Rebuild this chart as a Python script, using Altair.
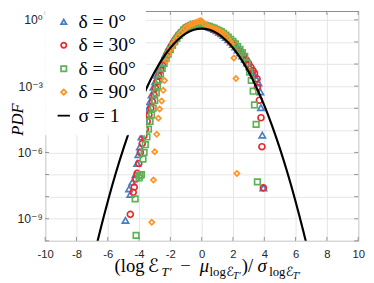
import altair as alt
import pandas as pd

series_names = ["δ = 0°", "δ = 30°", "δ = 60°", "δ = 90°"]
line_name = "σ = 1"

# delta = 0 deg (x, log10 PDF)
x_d0 = [-4.87, -4.64, -4.56, -4.44, -4.23, -4.12, -4.05, -3.95, -3.85, -3.75, -3.62, -3.5, -3.4, -3.3, -3.2,
        -3.08, -2.97, -2.85, -2.72, -2.6, -2.47, -2.33, -2.2, -2.05, -1.9, -1.75, -1.6, -1.45, -1.3, -1.15,
        -1.0, -0.85, -0.7, -0.55, -0.4, -0.25, -0.1, 0.05, 0.2, 0.35, 0.5, 0.65, 0.8, 0.95, 1.1, 1.25, 1.4,
        1.55, 1.7, 1.85, 2.0, 2.15, 2.3, 2.45, 2.6, 2.75, 2.9, 3.05, 3.2, 3.35, 3.5, 3.625, 3.75, 3.79, 3.875, 3.94]
e_d0 = [-9.07, -7.65, -7.9, -7.35, -7.0, -6.5, -6.1, -5.75, -5.3, -4.95, -4.6, -4.3, -4.0, -3.7, -3.4,
        -3.05, -2.8, -2.5, -2.25, -2.02, -1.8, -1.58, -1.4, -1.2, -1.02, -0.86, -0.72, -0.6, -0.48, -0.39,
        -0.31, -0.26, -0.22, -0.2, -0.19, -0.19, -0.2, -0.22, -0.26, -0.3, -0.34, -0.38, -0.43, -0.49, -0.56, -0.63, -0.71,
        -0.8, -0.9, -1.0, -1.11, -1.23, -1.36, -1.5, -1.63, -1.78, -1.95, -2.12, -2.32, -2.52, -2.68, -2.86, -3.26, -3.97, -5.22, -7.6]

# delta = 30 deg
x_d30 = [-4.56, -4.375, -4.31, -4.2, -4.125, -4.02, -3.92, -3.8, -3.7, -3.6, -3.48, -3.37, -3.25, -3.15, -3.05,
         -2.95, -2.85, -2.75, -2.62, -2.5, -2.37, -2.23, -2.1, -1.95, -1.8, -1.65, -1.5, -1.35, -1.2, -1.05,
         -0.9, -0.75, -0.6, -0.45, -0.3, -0.15, 0.0, 0.15, 0.3, 0.45, 0.6, 0.75, 0.9, 1.05, 1.2, 1.35, 1.5,
         1.65, 1.8, 1.95, 2.1, 2.25, 2.4, 2.55, 2.7, 2.85, 3.0, 3.15, 3.28, 3.375, 3.54, 3.56, 3.69, 3.79, 3.85, 3.94]
e_d30 = [-8.8, -7.8, -7.57, -7.2, -6.95, -6.5, -6.0, -5.6, -5.25, -4.95, -4.6, -4.3, -4.0, -3.7, -3.4,
         -3.1, -2.8, -2.55, -2.28, -2.04, -1.82, -1.6, -1.4, -1.2, -1.02, -0.86, -0.72, -0.59, -0.48, -0.39,
         -0.31, -0.26, -0.22, -0.2, -0.19, -0.2, -0.22, -0.25, -0.29, -0.33, -0.37, -0.42, -0.47, -0.53, -0.6, -0.68, -0.76,
         -0.85, -0.95, -1.05, -1.16, -1.28, -1.4, -1.53, -1.67, -1.82, -1.98, -2.15, -2.3, -2.42, -2.67, -3.05, -3.64, -4.43, -5.74, -7.6]

# delta = 60 deg
x_d60 = [-4.19, -4.25, -4.0, -3.94, -3.85, -3.75, -3.68, -3.6, -3.5, -3.4, -3.3, -3.2, -3.1, -3.0, -2.9,
         -2.83, -2.73, -2.63, -2.52, -2.4, -2.27, -2.14, -2.0, -1.86, -1.72, -1.58, -1.44, -1.3, -1.15, -1.0,
         -0.85, -0.7, -0.55, -0.4, -0.25, -0.1, 0.05, 0.2, 0.35, 0.5, 0.65, 0.8, 0.95, 1.1, 1.25, 1.4, 1.55,
         1.7, 1.85, 2.0, 2.15, 2.3, 2.45, 2.6, 2.75, 2.9, 3.06, 3.17, 3.29, 3.375, 3.48, 3.56]
e_d60 = [-9.75, -8.1, -7.15, -7.05, -7.0, -6.3, -6.0, -5.65, -5.3, -4.95, -4.6, -4.3, -4.0, -3.65, -3.3,
         -3.0, -2.72, -2.45, -2.2, -1.97, -1.75, -1.55, -1.35, -1.16, -0.99, -0.84, -0.7, -0.58, -0.47, -0.38,
         -0.31, -0.26, -0.22, -0.2, -0.19, -0.2, -0.22, -0.24, -0.27, -0.3, -0.34, -0.38, -0.43, -0.48, -0.54, -0.61, -0.69,
         -0.78, -0.88, -0.98, -1.09, -1.21, -1.34, -1.48, -1.66, -1.95, -2.37, -2.74, -3.23, -3.85, -4.73, -7.33]

# delta = 90 deg
x_d90 = [-3.19, -3.08, -3.0, -2.875, -2.77, -2.69, -2.56, -2.46, -2.375, -2.25, -2.1, -1.95, -1.8, -1.65,
         -1.5, -1.35, -1.2, -1.05, -0.9, -0.75, -0.6, -0.45, -0.3, -0.15, -0.05, 0.05, 0.2, 0.35, 0.5, 0.65,
         0.8, 0.95, 1.1, 1.25, 1.4, 1.55, 1.7, 1.8, 1.9, 2.06, 2.19, 2.25]
e_d90 = [-9.16, -7.25, -5.97, -5.18, -4.45, -4.03, -3.67, -3.19, -2.75, -1.85, -1.55, -1.3, -1.08, -0.9,
         -0.74, -0.6, -0.48, -0.38, -0.3, -0.24, -0.19, -0.15, -0.1, -0.06, -0.04, -0.1, -0.2, -0.28, -0.33, -0.37,
         -0.41, -0.45, -0.5, -0.55, -0.62, -0.72, -0.85, -0.97, -1.1, -1.73, -2.66, -6.95]

# sigma = 1 reference curve
g_x = [-6.7, -6.5, -6.0, -5.5, -5.0, -4.5, -4.0, -3.5, -3.0, -2.5, -2.0, -1.5, -1.0, -0.5, 0.0,
       0.5, 1.0, 1.5, 2.0, 2.5, 3.0, 3.5, 4.0, 4.5, 5.0, 5.5, 6.0, 6.5, 6.7]
g_pdf = [7.1e-11, 2.67e-10, 6.08e-9, 1.08e-7, 1.49e-6, 1.60e-5, 1.34e-4, 8.73e-4, 4.43e-3, 1.75e-2, 5.40e-2,
         1.295e-1, 2.42e-1, 3.52e-1, 3.989e-1, 3.52e-1, 2.42e-1, 1.295e-1, 5.40e-2, 1.75e-2, 4.43e-3, 8.73e-4,
         1.34e-4, 1.60e-5, 1.49e-6, 1.08e-7, 6.08e-9, 2.67e-10, 7.1e-11]

x_ticks = [-10, -8, -6, -4, -2, 0, 2, 4, 6, 8, 10]
y_grid = [1e-10, 1e-9, 1e-8, 1e-7, 1e-6, 1e-5, 1e-4, 1e-3, 1e-2, 1e-1, 1e0]

colors = ["#4a7fbf", "#e8292f", "#5cb357", "#ff9326", "#000000"]
shapes = ["triangle-up", "circle", "square", "diamond", "M-2.3,0H2.3"]
sizes = [42, 28, 24, 42]

rows = []
for name, xs, es in zip(series_names, [x_d0, x_d30, x_d60, x_d90], [e_d0, e_d30, e_d60, e_d90]):
    for xv, ev in zip(xs, es):
        rows.append({"series": name, "x": xv, "pdf": 10 ** ev})
df = pd.DataFrame(rows)
gdf = pd.DataFrame({"x": g_x, "pdf": g_pdf})
xt_df = pd.DataFrame({"x": x_ticks})
yt_df = pd.DataFrame({"pdf": y_grid})

all_names = series_names + [line_name]
xscale = alt.Scale(domain=[-10, 10], nice=False, zero=False)
yscale = alt.Scale(type="log", domain=[1e-10, 10 ** 0.398], nice=False)

xaxis = alt.Axis(values=x_ticks, labelExpr="'' + datum.value", title=None, grid=True, ticks=False,
                 domain=False, labelFont="Liberation Sans", labelFontSize=11.5, labelColor="#262626",
                 labelPadding=8, gridColor="#e4e4e4", labelFlush=False, labelOverlap=False)
ylab = ("round(log(datum.value)/LN10) == 0 ? '10⁰' : round(log(datum.value)/LN10) == -3 ? '10⁻³' : "
        "round(log(datum.value)/LN10) == -6 ? '10⁻⁶' : round(log(datum.value)/LN10) == -9 ? '10⁻⁹' : ''")
yaxis = alt.Axis(values=y_grid, labelExpr=ylab, title=None, grid=True, ticks=False, domain=False,
                 labelFont="Liberation Sans, DejaVu Sans", labelFontSize=12.5, labelColor="#262626",
                 labelPadding=3, gridColor="#e4e4e4", labelFlush=False, labelOverlap=False)

leg = alt.Legend(title=None, orient="none", legendX=0, legendY=-8, padding=9, fillColor="white",
                 strokeColor="white", labelFont="Liberation Serif", labelFontSize=20, labelColor="black",
                 symbolSize=30, symbolStrokeWidth=1.8, rowPadding=4, labelOffset=5)

X = lambda f: alt.X(f, scale=xscale, axis=xaxis)
Y = lambda f: alt.Y(f, scale=yscale, axis=yaxis)

points = alt.Chart(df).mark_point(filled=False, strokeWidth=1.7, opacity=1, clip=True).encode(
    x=X("x:Q"),
    y=Y("pdf:Q"),
    color=alt.Color("series:N", scale=alt.Scale(domain=all_names, range=colors), legend=leg),
    shape=alt.Shape("series:N", scale=alt.Scale(domain=all_names, range=shapes), legend=leg),
    size=alt.Size("series:N", scale=alt.Scale(domain=series_names, range=sizes), legend=None),
)

curve = alt.Chart(gdf).mark_line(color="black", strokeWidth=2.2, clip=True, interpolate="monotone").encode(
    x=X("x:Q"),
    y=Y("pdf:Q"),
)

# inward box ticks (MATLAB style)
tick_color = "#7a7a7a"
xt_bottom = alt.Chart(xt_df).mark_rule(color=tick_color, strokeWidth=0.8).encode(
    x=X("x:Q"), y=alt.value(235), y2=alt.value(231))
xt_top = alt.Chart(xt_df).mark_rule(color=tick_color, strokeWidth=0.8).encode(
    x=X("x:Q"), y=alt.value(0), y2=alt.value(4))
yt_left = alt.Chart(yt_df).mark_rule(color=tick_color, strokeWidth=0.8).encode(
    y=Y("pdf:Q"), x=alt.value(0), x2=alt.value(4))
yt_right = alt.Chart(yt_df).mark_rule(color=tick_color, strokeWidth=0.8).encode(
    y=Y("pdf:Q"), x=alt.value(316), x2=alt.value(320))

# x-axis title pieces (page coords minus plot origin 46, 8)
OX, OY = 46, 8
pieces = [
    ("(log", 117, 275, 19, "normal"),
    ("ℰ", 151, 275, 19, "normal"),
    ("T′", 165, 279, 13, "italic"),
    ("−", 184, 275, 19, "normal"),
    ("μ", 204, 275, 19, "italic"),
    ("log", 214, 279, 13, "normal"),
    ("ℰ", 231, 279, 13, "normal"),
    ("T′", 238, 282, 10, "italic"),
    (")/", 247, 275, 19, "normal"),
    ("σ", 263, 275, 19, "italic"),
    ("log", 275, 279, 13, "normal"),
    ("ℰ", 292, 279, 13, "normal"),
    ("T′", 299, 282, 10, "italic"),
]
texts = []
for t, px, py, fs, st in pieces:
    texts.append(
        alt.Chart(pd.DataFrame({"t": [t]})).mark_text(
            align="left", baseline="alphabetic", fontSize=fs, fontStyle=st,
            font="Liberation Serif, DejaVu Serif, DejaVu Sans", color="black"
        ).encode(text="t:N", x=alt.value(px - OX), y=alt.value(py - OY))
    )

ytitle = alt.Chart(pd.DataFrame({"t": ["PDF"]})).mark_text(
    align="center", baseline="middle", angle=270, fontSize=17, fontStyle="italic",
    font="Liberation Serif", color="black"
).encode(text="t:N", x=alt.value(18 - OX), y=alt.value(119 - OY))

chart = alt.layer(points, curve, xt_bottom, xt_top, yt_left, yt_right, *texts, ytitle).properties(
    width=320, height=235,
    padding={"left": 38, "top": 0, "right": 8, "bottom": 40},
    autosize=alt.AutoSizeParams(type="none"),
    background="white",
).configure_view(stroke="#8a8a8a", strokeWidth=1)

chart.save("out.html", embed_options={"renderer": "svg", "actions": False})
